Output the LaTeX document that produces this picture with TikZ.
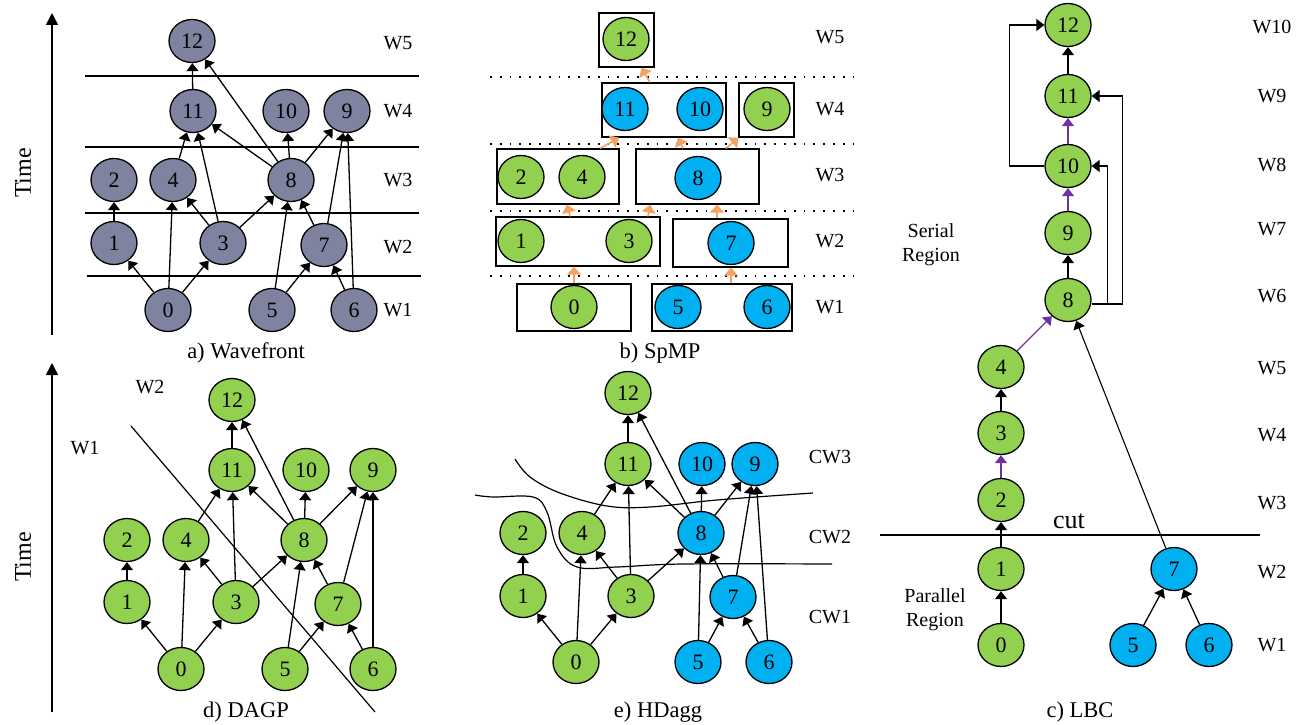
\documentclass[tikz,border=0pt]{standalone}
\usepackage{fontspec}
\setmainfont{Liberation Serif}
\usetikzlibrary{arrows.meta,shapes.geometric}
\definecolor{gfill}{RGB}{146,208,80}
\definecolor{bfill}{RGB}{0,176,240}
\definecolor{sfill}{RGB}{127,131,160}
\definecolor{spmp}{RGB}{244,162,97}
\definecolor{serial}{RGB}{112,48,160}
\begin{document}
\begin{tikzpicture}[x=1pt,y=-1pt,font=\fontsize{20}{24}\selectfont,
  vtx/.style={ellipse,draw,line width=1.3pt,minimum width=46pt,minimum height=43pt,inner sep=0pt,
    font=\fontsize{22}{26}\selectfont},
  gv/.style={vtx,fill=gfill},
  bv/.style={vtx,fill=bfill},
  sv/.style={vtx,fill=sfill},
  arr/.style={-{Triangle[width=12pt,length=8pt]},line width=1.3pt},
  parr/.style={arr,draw=serial},
  oarr/.style={-{Triangle[width=14pt,length=8pt]},line width=1.6pt,draw=spmp},
  grp/.style={draw,line width=1.3pt,inner sep=0pt},
  dotline/.style={line width=1.8pt,dash pattern=on 1.8pt off 8pt},
  txt/.style={inner sep=0pt},
  caption/.style={inner sep=0pt,font=\fontsize{22.5}{27}\selectfont},
  timearr/.style={-{Triangle[width=12pt,length=12pt]},line width=1.5pt}]
\useasboundingbox (0,0) rectangle (1301,725);

% ---------------- a) Wavefront ----------------
\draw[timearr] (52,335) -- (52,13);
\node[txt,rotate=90,font=\fontsize{24}{28}\selectfont] (atime) at (23,173) {Time};
\draw[line width=1.2pt] (85,76) -- (419,76);
\draw[line width=2.6pt] (85,76) -- (103,76);
\draw[line width=1.8pt] (85,147) -- (419,147);
\draw[line width=1.8pt] (85,213) -- (419,213);
\draw[line width=1.2pt] (87,276) -- (421,276);
\draw[line width=2.6pt] (87,276) -- (105,276);
\node[sv] (a12) at (192,41) {12};
\node[sv] (a11) at (193,111) {11};
\node[sv] (a10) at (286,111) {10};
\node[sv] (a9) at (347,111) {9};
\node[sv] (a2) at (114,180) {2};
\node[sv] (a4) at (173,180) {4};
\node[sv] (a8) at (291,180) {8};
\node[sv] (a1) at (114,243) {1};
\node[sv] (a3) at (223,243) {3};
\node[sv] (a7) at (324,245) {7};
\node[sv] (a0) at (168,310) {0};
\node[sv] (a5) at (272,310) {5};
\node[sv] (a6) at (354,310) {6};
\foreach \u/\v in {0/1,0/4,0/3,1/2,3/4,3/11,3/8,4/11,5/8,5/7,6/7,6/9,7/8,7/9,8/11,8/12,8/10,8/9,11/12}
  \draw[arr] (a\u) -- (a\v);
\node[txt] (aw5) at (398,43) {W5};
\node[txt] (aw4) at (398,111) {W4};
\node[txt] (aw3) at (398,180) {W3};
\node[txt] (aw2) at (398,247) {W2};
\node[txt] (aw1) at (398,310) {W1};
\node[caption] (acap) at (246,353) {a) Wavefront};

% ---------------- b) SpMP ----------------
\foreach \yy in {77,144,211,276}
  \draw[dotline] (490,\yy) -- (862,\yy);
\node[grp,minimum width=55pt,minimum height=54pt] (bx12) at (626.5,40) {};
\node[grp,minimum width=124pt,minimum height=54pt] (bx1110) at (664,110) {};
\node[grp,minimum width=55pt,minimum height=54pt] (bx9) at (766.5,110) {};
\node[grp,minimum width=122pt,minimum height=55pt] (bx24) at (558,176.5) {};
\node[grp,minimum width=123pt,minimum height=55pt] (bx8) at (697.5,176.5) {};
\node[grp,minimum width=164pt,minimum height=49pt] (bx13) at (578,241.5) {};
\node[grp,minimum width=115pt,minimum height=48pt] (bx7) at (730.5,243) {};
\node[grp,minimum width=114pt,minimum height=47pt] (bx0) at (574,307.5) {};
\node[grp,minimum width=140pt,minimum height=47pt] (bx56) at (722,307.5) {};
\node[gv] (b12) at (626,39) {12};
\node[bv] (b11) at (625,109) {11};
\node[bv] (b10) at (700,109) {10};
\node[gv] (b9) at (767,109) {9};
\node[gv] (b2) at (521,177) {2};
\node[gv] (b4) at (582,177) {4};
\node[bv] (b8) at (698,178) {8};
\node[gv] (b1) at (521,241) {1};
\node[gv] (b3) at (629,241) {3};
\node[bv] (b7) at (731,243) {7};
\node[gv] (b0) at (574,307) {0};
\node[bv] (b5) at (678,307) {5};
\node[bv] (b6) at (767,307) {6};
\draw[oarr] (bx0.north) -- (bx0.north |- bx13.south);
\draw[oarr] ([xshift=9pt]bx56.north) -- ([xshift=9pt]bx56.north |- bx7.south);
\draw[oarr] ([xshift=-8pt]bx13.north) -- ([xshift=9pt]bx24.south);
\draw[oarr] ([xshift=70pt]bx13.north) -- ([xshift=-47.5pt]bx8.south);
\draw[oarr] ([xshift=-13.5pt]bx7.north) -- ([xshift=19.5pt]bx8.south);
\draw[oarr] ([xshift=42pt]bx24.north) -- ([xshift=-45pt]bx1110.south);
\draw[oarr] ([xshift=-14.5pt]bx8.north) -- ([xshift=14pt]bx1110.south);
\draw[oarr] ([xshift=28.5pt]bx8.north) -- ([xshift=-28pt]bx9.south);
\draw[oarr] ([xshift=-14pt]bx1110.north) -- ([xshift=15pt]bx12.south);
\node[txt] (bw5) at (830,37) {W5};
\node[txt] (bw4) at (830,109) {W4};
\node[txt] (bw3) at (830,175) {W3};
\node[txt] (bw2) at (830,241) {W2};
\node[txt] (bw1) at (830,307) {W1};
\node[caption] (bcap) at (660,353) {b) SpMP};

% ---------------- c) LBC ----------------
\draw[line width=1.2pt] (880,535) -- (1260,535);
\draw[line width=2.6pt] (880,535) -- (900,535);
\node[txt,font=\fontsize{26}{30}\selectfont] (ccut) at (1069,521) {cut};
\node[gv] (c12) at (1068,25) {12};
\node[gv] (c11) at (1068,96) {11};
\node[gv] (c10) at (1068,166) {10};
\node[gv] (c9) at (1068,233) {9};
\node[gv] (c8) at (1068,300) {8};
\node[gv] (c4) at (1001,367) {4};
\node[gv] (c3) at (1001,433) {3};
\node[gv] (c2) at (1001,500) {2};
\node[gv] (c1) at (1001,569) {1};
\node[gv] (c0) at (1001,645) {0};
\node[bv] (c7) at (1174,569) {7};
\node[bv] (c5) at (1133,645) {5};
\node[bv] (c6) at (1209,645) {6};
\draw[arr] (c0) -- (c1);
\draw[arr] (c1) -- (c2);
\draw[parr] (c2) -- (c3);
\draw[arr] (c3) -- (c4);
\draw[parr] (c4) -- (c8);
\draw[arr,line width=1.1pt] (c7) -- (c8);
\draw[arr] (c5) -- (c7);
\draw[arr] (c6) -- (c7);
\draw[arr] (c8) -- (c9);
\draw[parr] (c9) -- (c10);
\draw[parr] (c10) -- (c11);
\draw[arr] (c11) -- (c12);
\draw[arr] (c10.west) -- ++(-35,0) |- (c12.west);
\draw[arr] ([yshift=-4pt]c8.east) -| ([xshift=16pt]c10.east) -- (c10.east);
\draw[arr] ([yshift=-4pt]c8.east) -| ([xshift=31pt]c11.east) -- (c11.east);
\node[txt,align=center] (cser) at (931,245) {Serial\\Region};
\node[txt,align=center] (cpar) at (935,610) {Parallel\\Region};
\node[txt] (cw10) at (1272,27) {W10};
\node[txt] (cw9) at (1272,96) {W9};
\node[txt] (cw8) at (1272,165) {W8};
\node[txt] (cw7) at (1272,229) {W7};
\node[txt] (cw6) at (1272,296) {W6};
\node[txt] (cw5) at (1272,368) {W5};
\node[txt] (cw4) at (1272,435) {W4};
\node[txt] (cw3) at (1272,503) {W3};
\node[txt] (cw2) at (1272,572) {W2};
\node[txt] (cw1) at (1272,645) {W1};
\node[caption] (ccap) at (1080,712) {c) LBC};

% ---------------- d) DAGP ----------------
\draw[timearr] (52,712) -- (52,363);
\node[txt,rotate=90,font=\fontsize{24}{28}\selectfont] (dtime) at (23,557) {Time};
\draw[line width=1.2pt] (131,426) -- (375,712);
\node[gv] (d12) at (232,400) {12};
\node[gv] (d11) at (232,470) {11};
\node[gv] (d10) at (306,470) {10};
\node[gv] (d9) at (373,470) {9};
\node[gv] (d2) at (127,540) {2};
\node[gv] (d4) at (186,540) {4};
\node[gv] (d8) at (304,540) {8};
\node[gv] (d1) at (127,602) {1};
\node[gv] (d3) at (236,602) {3};
\node[gv] (d7) at (338,604) {7};
\node[gv] (d0) at (181,669) {0};
\node[gv] (d5) at (285,669) {5};
\node[gv] (d6) at (373,669) {6};
\foreach \u/\v in {0/1,0/4,0/3,1/2,3/4,3/11,3/8,4/11,5/8,5/7,6/7,6/9,7/8,7/9,8/11,8/12,8/10,8/9,11/12}
  \draw[arr] (d\u) -- (d\v);
\node[txt] (dw2) at (150,387) {W2};
\node[txt] (dw1) at (85,448) {W1};
\node[caption] (dcap) at (246,712) {d) DAGP};

% ---------------- e) HDagg ----------------
\draw[line width=1.2pt] plot[smooth,tension=0.6] coordinates
  {(515,459) (530,477) (560,493) (607,506) (650,507) (717,500) (813,493)};
\draw[line width=1.2pt] plot[smooth,tension=0.6] coordinates
  {(475,495) (493,497) (533,497) (547,512) (557,547) (577,567) (617,567) (683,564) (832,564)};
\node[gv] (e12) at (628,393) {12};
\node[gv] (e11) at (628,464) {11};
\node[bv] (e10) at (702,464) {10};
\node[bv] (e9) at (755,464) {9};
\node[gv] (e2) at (523,533) {2};
\node[gv] (e4) at (582,533) {4};
\node[bv] (e8) at (701,533) {8};
\node[gv] (e1) at (523,596) {1};
\node[gv] (e3) at (631,596) {3};
\node[bv] (e7) at (733,597) {7};
\node[gv] (e0) at (576,662) {0};
\node[bv] (e5) at (698,662) {5};
\node[bv] (e6) at (769,662) {6};
\foreach \u/\v in {0/1,0/4,0/3,1/2,3/4,3/11,3/8,4/11,5/8,5/7,6/7,6/9,7/8,7/9,8/11,8/12,8/10,8/9,11/12}
  \draw[arr] (e\u) -- (e\v);
\node[txt] (ecw3) at (830,457) {CW3};
\node[txt] (ecw2) at (830,537) {CW2};
\node[txt] (ecw1) at (830,617) {CW1};
\node[caption] (ecap) at (658,712) {e) HDagg};
\end{tikzpicture}
\end{document}
